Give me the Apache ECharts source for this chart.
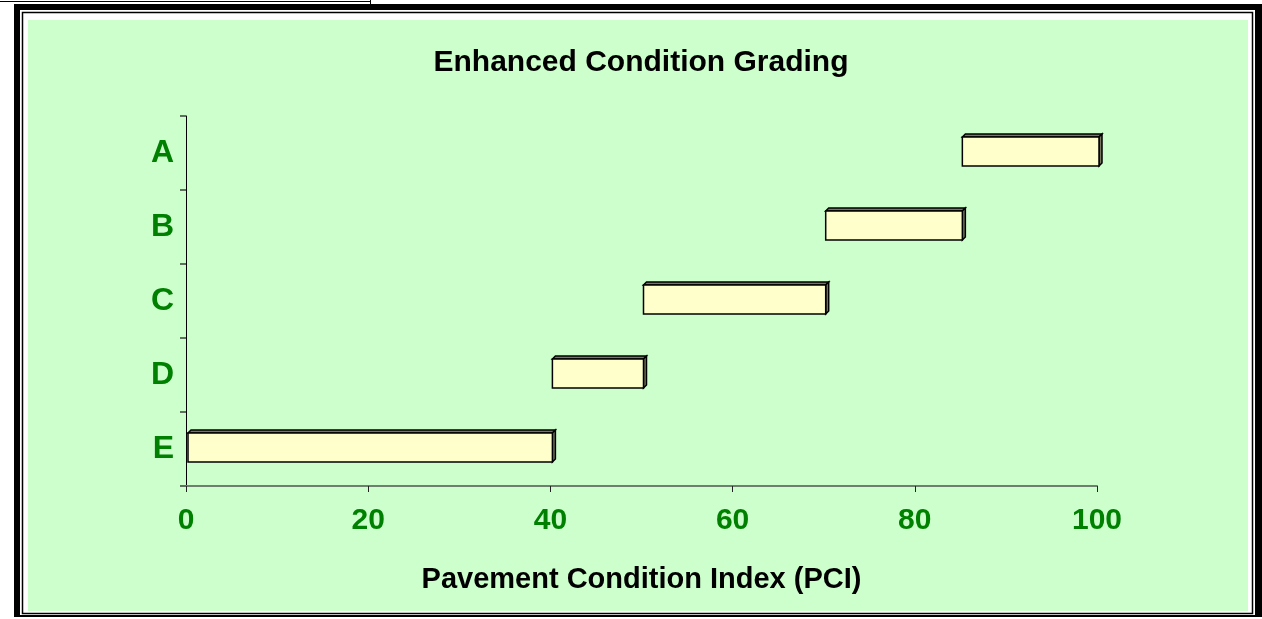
<!DOCTYPE html>
<html>
<head>
<meta charset="utf-8">
<script src="https://cdn.jsdelivr.net/npm/echarts@6/dist/echarts.min.js"></script>
<style>
    html, body { margin: 0; padding: 0; background: #fff; }
    #chart { width: 1262px; height: 619px; }
</style>
</head>
<body>
<div id="chart"></div>
<script>
// grades and their PCI ranges
var grades = ['A', 'B', 'C', 'D', 'E'];
var lowerBounds = [85, 70, 50, 40, 0];
var upperBounds = [100, 85, 70, 50, 40];
var xTicks = [0, 20, 40, 60, 80, 100];

var FONT = '"Liberation Sans", Arial, sans-serif';
var GREEN = '#008000';

var barData = grades.map(function (g, i) {
    return [lowerBounds[i], upperBounds[i], g];
});

// excel-ish 3D bar: front face, top bevel and right side
function renderBar (params, api) {
    var start = api.coord([api.value(0), api.value(2)]);
    var end = api.coord([api.value(1), api.value(2)]);
    var d = 3;
    var x0 = start[0] + 2;
    var x1 = end[0] + 2;
    var y0 = start[1] - 16;
    var y1 = start[1] + 13;
    var edge = { stroke: '#000', lineWidth: 1.5 };
    return {
        type: 'group',
        children: [{
            type: 'polygon',
            shape: { points: [[x0, y0], [x0 + d, y0 - d], [x1 + d, y0 - d], [x1, y0]] },
            style: Object.assign({ fill: '#77775f' }, edge)
        }, {
            type: 'polygon',
            shape: { points: [[x1, y0], [x1 + d, y0 - d], [x1 + d, y1 - d], [x1, y1]] },
            style: Object.assign({ fill: '#77775f' }, edge)
        }, {
            type: 'rect',
            shape: { x: x0, y: y0, width: x1 - x0, height: y1 - y0 },
            style: Object.assign({ fill: '#ffffcc' }, edge)
        }]
    };
}

var myChart = echarts.init(document.getElementById('chart'));
myChart.setOption({
    animation: false,
    textStyle: { fontFamily: FONT },
    graphic: [
        { type: 'line', z: -10, shape: { x1: 0, y1: 1.5, x2: 370, y2: 1.5 }, style: { stroke: '#000', lineWidth: 1 } },
        { type: 'line', z: -10, shape: { x1: 370.5, y1: 0, x2: 370.5, y2: 5 }, style: { stroke: '#000', lineWidth: 1 } },
        { type: 'rect', z: -10, shape: { x: 14, y: 4, width: 1248, height: 613 }, style: { fill: '#000' } },
        { type: 'rect', z: -10, shape: { x: 20, y: 10, width: 1235, height: 605 }, style: { fill: '#fff' } },
        { type: 'rect', z: -10, shape: { x: 22.5, y: 12.5, width: 1230, height: 601 }, style: { fill: '#fff', stroke: '#000', lineWidth: 1.5 } },
        { type: 'rect', z: -10, shape: { x: 28, y: 20, width: 1220, height: 591 }, style: { fill: '#ccffcc' } },
        {
            type: 'text', z: 10,
            style: {
                x: 641, y: 63, text: 'Enhanced Condition Grading',
                align: 'center', verticalAlign: 'middle',
                font: 'bold 30px ' + FONT, fill: '#000'
            }
        }
    ],
    grid: {
        left: 186,
        right: 165,
        top: 116,
        bottom: 133
    },
    xAxis: {
        type: 'value',
        min: 0,
        max: 100,
        interval: 20,
        splitLine: { show: false },
        axisLine: { show: true, lineStyle: { color: '#6f7f6f', width: 2 } },
        axisTick: { show: true, length: 6, lineStyle: { color: '#222', width: 1 } },
        axisLabel: {
            color: GREEN,
            fontSize: 30,
            fontWeight: 'bold',
            margin: 20,
            customValues: xTicks
        },
        name: 'Pavement Condition Index (PCI)',
        nameLocation: 'middle',
        nameGap: 79,
        nameTextStyle: { color: '#000', fontSize: 29, fontWeight: 'bold' }
    },
    yAxis: {
        type: 'category',
        data: grades,
        inverse: true,
        axisLine: { show: true, lineStyle: { color: '#000', width: 1 } },
        axisTick: { show: true, length: 6, lineStyle: { color: '#5f6f5f', width: 2 } },
        axisLabel: {
            color: GREEN,
            fontSize: 32,
            fontWeight: 'bold',
            margin: 12
        }
    },
    series: [{
        type: 'custom',
        renderItem: renderBar,
        encode: { x: [0, 1], y: 2 },
        data: barData,
        z: 5
    }]
});
</script>
</body>
</html>
